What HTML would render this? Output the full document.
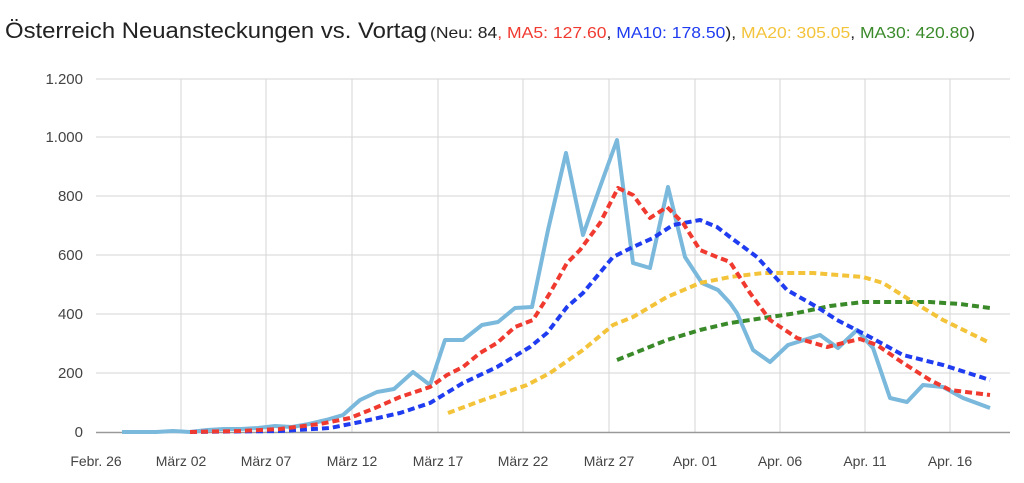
<!DOCTYPE html>
<html><head><meta charset="utf-8"><style>
body{margin:0;background:#fff;width:1024px;height:478px;overflow:hidden;font-family:"Liberation Sans",sans-serif}
</style></head><body>
<svg width="1024" height="478" xmlns="http://www.w3.org/2000/svg" font-family="Liberation Sans, sans-serif">
<text x="5" y="38" font-size="22" fill="#222" textLength="422" lengthAdjust="spacingAndGlyphs">Österreich Neuansteckungen vs. Vortag</text>
<text x="430" y="38" font-size="16" textLength="545" lengthAdjust="spacingAndGlyphs"><tspan fill="#222">(Neu: 84</tspan><tspan fill="#f03a30">, MA5: 127.60</tspan><tspan fill="#222">, </tspan><tspan fill="#1f3cf0">MA10: 178.50</tspan><tspan fill="#222">), </tspan><tspan fill="#f3c33a">MA20: 305.05</tspan><tspan fill="#222">, </tspan><tspan fill="#3a8a2a">MA30: 420.80</tspan><tspan fill="#222">)</tspan></text>
<g stroke="#d6d6d6" stroke-width="1">
<line x1="96" y1="79" x2="1010" y2="79"/><line x1="96" y1="137" x2="1010" y2="137"/><line x1="96" y1="196" x2="1010" y2="196"/><line x1="96" y1="255" x2="1010" y2="255"/><line x1="96" y1="314" x2="1010" y2="314"/><line x1="96" y1="373" x2="1010" y2="373"/>
<line x1="181" y1="79" x2="181" y2="432"/><line x1="266" y1="79" x2="266" y2="432"/><line x1="352" y1="79" x2="352" y2="432"/><line x1="438" y1="79" x2="438" y2="432"/><line x1="523" y1="79" x2="523" y2="432"/><line x1="609" y1="79" x2="609" y2="432"/><line x1="695" y1="79" x2="695" y2="432"/><line x1="780" y1="79" x2="780" y2="432"/><line x1="865" y1="79" x2="865" y2="432"/><line x1="950" y1="79" x2="950" y2="432"/>
</g>
<line x1="96" y1="432.5" x2="1010" y2="432.5" stroke="#999" stroke-width="1.5"/>
<g font-size="15" fill="#444" text-anchor="end">
<text x="83" y="84">1.200</text><text x="83" y="142">1.000</text><text x="83" y="201">800</text><text x="83" y="260">600</text><text x="83" y="319">400</text><text x="83" y="378">200</text><text x="83" y="437">0</text>
</g>
<g font-size="14" fill="#444" text-anchor="middle">
<text x="96" y="466">Febr. 26</text><text x="181" y="466">März 02</text><text x="266" y="466">März 07</text><text x="352" y="466">März 12</text><text x="438" y="466">März 17</text><text x="523" y="466">März 22</text><text x="609" y="466">März 27</text><text x="695" y="466">Apr. 01</text><text x="780" y="466">Apr. 06</text><text x="865" y="466">Apr. 11</text><text x="950" y="466">Apr. 16</text>
</g>
<g fill="none" stroke-linejoin="round">
<polyline stroke="#7ab8dc" stroke-width="4" points="122,432 139,432 156,432 173,431 190,432 207,430 224,429 241,429 258,428 275,426 292,427 309,424 326,420 343,415 360,400 377,392 394,389 413,372 430,385 445,340 463,340 482,325 498,322 515,308 532,307 548,230 566,153 583,235 600,187 617,140 633,263 650,268 668,187 685,257 702,283 718,290 730,303 737,313 753,350 770,362 788,345 820,335 838,348 857,330 873,348 890,398 907,402 923,385 943,387 963,398 990,408"/>
<polyline stroke="#3a8a2a" stroke-width="4" stroke-dasharray="7,4" points="617,360 667,340 700,330 730,323 797,313 830,306 863,302 930,302 960,304 990,308"/>
<polyline stroke="#f3c33a" stroke-width="4" stroke-dasharray="7,4" points="448,413 483,400 527,385 550,373 583,350 613,325 633,317 667,297 700,283 730,277 763,273 813,273 863,277 883,283 910,300 943,320 990,343"/>
<polyline stroke="#1f3cf0" stroke-width="4" stroke-dasharray="7,4" points="190,432 280,431 330,428 360,422 400,413 430,403 463,383 497,367 530,347 547,333 567,307 583,293 613,257 633,247 653,238 673,225 700,220 717,227 730,237 757,257 787,290 817,307 837,320 870,337 903,355 943,365 990,380"/>
<polyline stroke="#f03a30" stroke-width="4" stroke-dasharray="7,4" points="190,432 240,431 280,429 320,424 350,418 375,408 400,397 430,387 447,375 463,367 480,353 497,343 515,327 533,320 550,293 567,263 580,250 600,223 618,188 633,195 650,218 667,207 683,223 700,250 717,257 730,262 750,293 770,320 797,338 827,347 843,343 860,339 877,345 903,363 930,380 950,390 990,395"/>
</g>
</svg>
</body></html>
